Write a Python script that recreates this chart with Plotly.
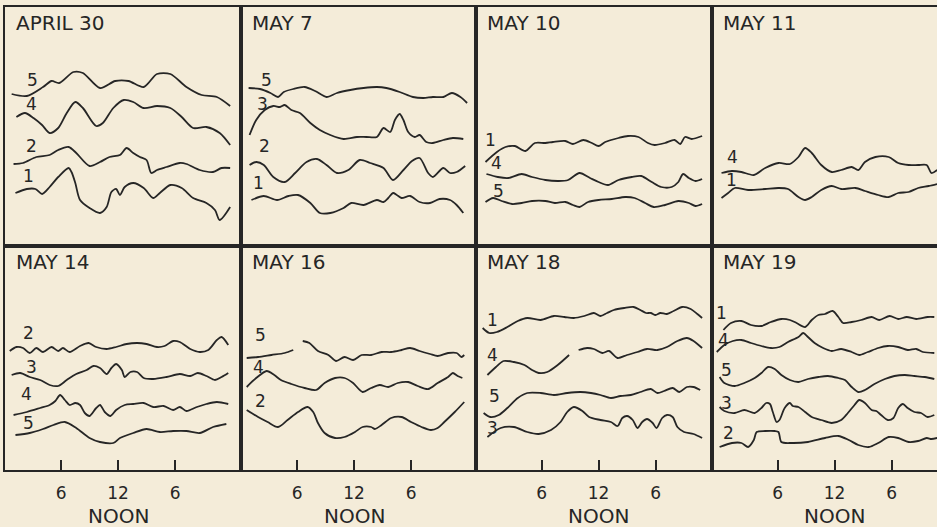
import plotly.graph_objects as go

# ---------------- data (hours of day, relative deflection units) ----------------
# APRIL 30
apr30_s5_x = [0.8, 2.4, 4.1, 5.0, 5.8, 7.3, 8.3, 10.1, 11.7, 13.1, 14.7, 16.1, 17.5, 19.2, 20.8, 22.4, 23.8]
apr30_s5_y = [15.2, 15.0, 15.9, 16.5, 16.3, 17.4, 17.3, 15.8, 16.5, 16.5, 15.9, 17.2, 17.2, 15.9, 15.1, 14.9, 14.0]
apr30_s4_x = [1.3, 2.2, 3.1, 4.0, 4.8, 5.7, 6.6, 7.5, 8.3, 9.7, 10.4, 11.5, 12.6, 13.6, 14.7, 16.1, 17.5, 18.7, 19.9, 21.3, 22.7, 23.8]
apr30_s4_y = [12.9, 13.3, 12.8, 12.1, 11.3, 11.8, 13.3, 14.4, 13.8, 12.0, 12.3, 13.8, 14.6, 14.4, 13.8, 14.0, 13.8, 12.9, 11.8, 11.9, 11.3, 10.1]
apr30_s2_x = [1.0, 2.0, 3.4, 4.8, 5.7, 6.8, 7.6, 9.0, 10.1, 11.1, 12.2, 12.9, 13.6, 14.3, 15.0, 15.5, 16.1, 17.1, 18.5, 19.2, 20.6, 22.0, 22.9, 23.8]
apr30_s2_y = [8.2, 8.3, 8.9, 9.1, 9.6, 9.9, 9.3, 8.0, 8.4, 8.9, 9.1, 9.8, 9.3, 8.9, 8.6, 7.3, 7.6, 7.9, 8.3, 8.2, 7.6, 7.4, 7.8, 7.8]
apr30_s1_x = [1.2, 2.4, 3.3, 4.0, 4.8, 5.7, 6.8, 7.1, 7.5, 8.0, 9.0, 10.1, 10.8, 11.3, 11.8, 12.2, 12.7, 13.6, 14.7, 15.7, 16.4, 17.5, 18.7, 19.9, 21.3, 22.2, 22.7, 23.8]
apr30_s1_y = [5.3, 5.7, 5.7, 5.2, 5.9, 6.9, 7.8, 7.4, 6.3, 4.6, 3.8, 3.3, 3.9, 5.4, 5.7, 5.1, 5.9, 6.3, 5.8, 4.8, 5.3, 6.1, 5.8, 4.8, 4.3, 3.6, 2.6, 3.9]

# MAY 7
may7_s5_x = [0.9, 2.1, 3.2, 4.0, 4.6, 5.6, 6.8, 7.9, 9.1, 10.2, 11.6, 13.0, 14.4, 15.4, 16.8, 18.2, 19.3, 20.3, 21.4, 22.3, 23.2, 23.9]
may7_s5_y = [15.8, 15.7, 15.3, 14.9, 15.4, 15.7, 15.9, 15.5, 14.9, 15.3, 15.6, 15.8, 15.9, 15.8, 15.4, 14.9, 14.8, 14.9, 14.9, 15.3, 14.9, 14.3]
may7_s3_x = [1.0, 1.7, 2.6, 3.5, 4.2, 4.7, 5.4, 6.3, 7.4, 8.4, 9.5, 10.9, 12.3, 13.3, 14.4, 15.1, 15.8, 16.3, 16.8, 17.2, 17.7, 18.4, 18.9, 19.6, 20.3, 21.4, 22.4, 23.5]
may7_s3_y = [11.1, 12.6, 13.6, 14.0, 13.9, 14.1, 13.6, 13.3, 12.3, 11.6, 11.1, 10.7, 10.9, 10.9, 10.9, 11.8, 11.4, 12.6, 13.2, 12.6, 11.4, 10.9, 11.1, 10.4, 10.3, 10.6, 10.8, 10.7]
may7_s2_x = [1.0, 1.7, 2.5, 3.5, 4.7, 5.8, 7.0, 8.1, 9.1, 10.2, 11.4, 12.6, 13.7, 15.1, 16.1, 17.2, 18.1, 18.9, 19.8, 20.3, 21.4, 22.1, 22.8, 23.7]
may7_s2_y = [8.1, 8.4, 8.1, 6.9, 6.4, 7.3, 8.4, 8.7, 8.1, 7.3, 7.6, 8.6, 8.3, 7.8, 6.6, 7.6, 8.5, 8.8, 7.3, 6.9, 7.8, 7.3, 7.4, 8.0]
may7_s1_x = [1.2, 2.5, 3.9, 5.1, 6.1, 7.4, 8.4, 9.5, 10.9, 11.7, 13.0, 14.4, 15.1, 15.6, 16.1, 16.5, 17.0, 17.9, 18.9, 20.0, 21.0, 22.1, 22.8, 23.5]
may7_s1_y = [4.6, 5.0, 4.6, 5.0, 5.1, 4.3, 3.3, 3.3, 3.8, 4.3, 4.1, 4.6, 4.4, 4.8, 5.3, 5.1, 4.8, 5.0, 4.4, 4.3, 4.7, 4.6, 4.1, 3.3]

# MAY 10
may10_s1_x = [0.1, 1.3, 2.2, 3.2, 4.3, 5.3, 6.4, 7.2, 8.5, 9.3, 10.4, 11.3, 12.0, 12.7, 14.1, 15.1, 16.2, 17.2, 17.9, 19.0, 20.0, 20.6, 21.1, 21.8, 22.9]
may10_s1_y = [8.4, 9.4, 9.9, 10.0, 9.5, 10.3, 10.3, 10.4, 10.5, 10.2, 10.6, 10.3, 10.0, 10.4, 10.8, 11.0, 10.9, 10.3, 10.1, 10.3, 10.6, 10.2, 10.9, 10.7, 11.0]
may10_s4_x = [0.2, 1.4, 2.5, 3.9, 5.0, 6.4, 7.8, 8.8, 10.0, 11.1, 12.0, 13.0, 14.1, 15.5, 16.5, 17.6, 18.6, 19.7, 20.4, 20.9, 21.5, 22.2, 22.9]
may10_s4_y = [7.2, 6.9, 6.8, 7.2, 6.9, 6.6, 6.5, 6.6, 7.3, 6.8, 6.4, 6.1, 6.6, 6.9, 7.0, 6.4, 5.9, 5.9, 6.4, 7.2, 6.8, 6.5, 6.7]
may10_s5_x = [0.1, 0.9, 1.8, 2.9, 3.9, 5.0, 6.4, 7.4, 8.5, 9.3, 10.0, 10.9, 12.0, 13.4, 14.8, 15.8, 16.9, 17.8, 19.0, 20.4, 21.5, 22.2, 22.9]
may10_s5_y = [4.4, 4.8, 4.5, 4.2, 4.3, 4.5, 4.5, 4.3, 4.4, 4.1, 3.9, 4.4, 4.6, 4.7, 4.9, 4.8, 4.3, 3.9, 4.1, 4.5, 4.3, 4.0, 4.2]

# MAY 11
may11_s4_x = [0.1, 1.2, 2.2, 3.5, 4.7, 6.1, 7.3, 8.2, 8.9, 9.6, 10.6, 11.7, 12.7, 13.8, 14.5, 15.2, 16.3, 17.7, 18.7, 19.8, 20.8, 21.7, 22.2, 22.8]
may11_s4_y = [7.3, 7.5, 7.4, 7.1, 7.8, 8.3, 8.2, 8.9, 9.8, 9.3, 8.1, 7.4, 7.6, 7.9, 7.6, 8.4, 8.9, 8.9, 8.3, 8.1, 8.1, 8.1, 7.3, 7.6]
may11_s1_x = [0.1, 0.8, 1.5, 2.9, 4.7, 6.1, 7.1, 8.2, 8.9, 9.6, 10.6, 11.7, 12.7, 14.2, 15.2, 16.6, 17.7, 18.7, 19.8, 20.8, 21.9, 22.8]
may11_s1_y = [4.8, 5.3, 5.8, 5.6, 5.7, 5.8, 5.7, 4.9, 4.6, 4.9, 5.6, 6.0, 5.7, 5.8, 5.5, 5.1, 4.9, 5.3, 5.4, 5.8, 6.0, 6.2]

# MAY 14
may14_s2_x = [0.6, 1.3, 2.0, 2.7, 3.4, 4.1, 5.0, 5.7, 6.2, 6.9, 8.0, 8.9, 9.7, 10.8, 11.8, 12.9, 14.0, 15.0, 16.1, 16.9, 17.8, 18.5, 19.6, 20.6, 21.5, 22.4, 22.9, 23.6]
may14_s2_y = [11.9, 12.3, 12.2, 11.7, 12.2, 11.8, 12.3, 11.9, 12.2, 11.8, 12.4, 12.7, 12.3, 12.1, 12.3, 12.6, 12.7, 12.6, 12.3, 12.4, 12.9, 12.8, 12.1, 11.8, 12.0, 13.0, 13.3, 12.5]
may14_s3_x = [0.8, 1.7, 2.7, 3.8, 4.8, 5.7, 6.6, 7.6, 8.7, 9.4, 10.1, 10.8, 11.3, 11.8, 12.4, 12.7, 13.3, 14.0, 14.7, 15.7, 17.1, 18.5, 19.6, 20.4, 21.3, 22.2, 22.9, 23.6]
may14_s3_y = [9.5, 9.7, 9.3, 9.0, 8.5, 8.4, 9.0, 9.6, 10.0, 10.4, 10.2, 9.6, 10.2, 10.6, 10.0, 9.3, 9.8, 9.8, 9.2, 9.1, 9.3, 9.6, 9.4, 9.7, 9.4, 9.0, 9.3, 9.7]
may14_s4_x = [1.0, 2.4, 3.8, 4.8, 5.4, 5.9, 6.4, 6.9, 7.5, 8.0, 8.5, 9.0, 9.7, 10.1, 10.6, 11.2, 11.8, 12.7, 13.6, 14.7, 15.7, 16.8, 17.8, 18.5, 19.2, 20.3, 21.3, 22.4, 23.6]
may14_s4_y = [5.5, 5.8, 6.2, 6.5, 6.9, 7.5, 7.0, 6.5, 6.7, 6.5, 5.7, 5.4, 6.2, 6.5, 5.8, 5.4, 6.0, 6.5, 6.6, 6.7, 6.3, 6.4, 6.0, 6.3, 5.9, 6.3, 6.6, 6.8, 6.6]
may14_s5_x = [1.2, 2.7, 4.1, 5.2, 6.4, 7.6, 9.0, 10.1, 11.5, 12.2, 13.6, 15.0, 16.4, 17.8, 19.2, 20.6, 22.0, 23.4]
may14_s5_y = [3.5, 3.7, 4.1, 4.5, 4.8, 4.2, 3.2, 2.8, 2.7, 3.2, 3.7, 4.1, 3.8, 3.9, 3.9, 3.7, 4.3, 4.6]

# MAY 16 (None = break in the record)
may16_s5_x = [0.7, 1.9, 3.3, 4.7, 5.6, None, 6.6, 7.3, 8.2, 9.3, 10.1, 11.0, 11.9, 12.8, 13.8, 14.9, 15.9, 17.0, 17.9, 18.9, 20.0, 20.8, 21.9, 22.8, 23.3, 23.6]
may16_s5_y = [11.2, 11.3, 11.5, 11.7, 12.0, None, 12.9, 12.7, 11.9, 11.5, 10.9, 11.3, 11.0, 11.5, 11.5, 11.8, 11.8, 12.0, 12.2, 11.9, 11.6, 11.4, 11.7, 11.7, 11.3, 11.5]
may16_s4_x = [0.7, 1.7, 2.8, 3.6, 4.3, 5.4, 6.8, 8.0, 8.9, 10.0, 11.0, 11.9, 12.9, 13.8, 14.7, 15.6, 16.6, 17.7, 18.7, 19.8, 20.8, 21.9, 22.4, 22.9, 23.4]
may16_s4_y = [8.3, 9.2, 9.9, 9.5, 9.0, 8.6, 8.2, 8.0, 8.7, 9.2, 9.2, 8.7, 7.8, 8.2, 8.5, 8.3, 8.7, 8.8, 8.4, 8.1, 8.7, 9.3, 9.7, 9.4, 9.2]
may16_s2_x = [0.7, 1.9, 2.9, 4.0, 5.0, 6.1, 7.1, 7.7, 8.2, 8.9, 10.0, 11.0, 12.1, 12.9, 13.8, 14.2, 14.9, 15.9, 17.0, 18.0, 19.1, 20.1, 20.8, 21.5, 22.6, 23.6]
may16_s2_y = [6.0, 5.3, 4.8, 4.3, 5.0, 5.8, 6.3, 5.8, 4.7, 3.7, 3.2, 3.3, 3.8, 4.3, 4.3, 4.1, 4.5, 5.2, 5.3, 4.8, 4.3, 4.0, 4.2, 4.8, 5.8, 6.8]

# MAY 18
may18_s1_x = [-0.2, 0.5, 1.3, 2.4, 3.5, 4.5, 5.9, 7.3, 8.4, 9.4, 10.5, 11.5, 12.2, 12.9, 13.6, 14.7, 15.7, 16.4, 17.0, 17.5, 18.0, 18.5, 19.2, 19.9, 20.8, 21.7, 22.4, 22.9]
may18_s1_y = [14.2, 13.7, 13.8, 14.3, 14.9, 15.2, 15.0, 15.4, 15.3, 15.2, 15.4, 15.7, 15.4, 15.7, 16.0, 16.2, 16.3, 16.0, 15.7, 15.7, 15.5, 15.7, 15.6, 15.9, 16.3, 16.1, 15.6, 15.2]
may18_s4_x = [0.3, 1.2, 2.0, 3.1, 4.2, 5.0, 5.7, 6.6, 7.7, 8.9, None, 9.9, 10.8, 11.5, 12.4, 13.1, 14.0, 15.0, 16.1, 17.1, 18.2, 19.2, 20.3, 21.3, 22.0, 22.9]
may18_s4_y = [9.5, 10.3, 10.9, 10.8, 10.5, 10.0, 9.7, 9.8, 10.5, 11.5, None, 12.0, 12.2, 12.1, 11.7, 11.9, 11.2, 11.5, 11.8, 12.1, 12.0, 12.3, 12.9, 13.2, 12.9, 12.2]
may18_s5_x = [-0.1, 0.6, 1.5, 2.4, 3.5, 4.5, 5.9, 7.3, 8.7, 10.1, 11.2, 12.2, 13.3, 14.3, 15.4, 16.4, 17.5, 18.2, 18.9, 19.8, 20.5, 21.3, 22.0, 22.7]
may18_s5_y = [5.7, 5.3, 5.5, 6.2, 7.2, 7.7, 7.7, 7.5, 7.7, 7.8, 7.7, 7.5, 7.2, 7.4, 7.5, 7.8, 8.1, 7.7, 7.9, 8.2, 7.8, 8.3, 8.3, 8.0]
may18_s3_x = [0.3, 1.7, 3.1, 4.5, 5.7, 7.0, 8.0, 8.7, 9.4, 10.3, 11.0, 12.2, 13.3, 14.0, 14.5, 15.0, 15.6, 16.1, 16.6, 17.1, 17.7, 18.1, 18.7, 19.2, 19.8, 20.3, 21.0, 22.0, 22.9]
may18_s3_y = [3.3, 4.2, 4.3, 3.8, 3.6, 4.0, 4.8, 5.8, 6.3, 5.9, 5.3, 5.0, 4.8, 4.4, 5.2, 5.4, 5.0, 4.2, 4.8, 5.1, 4.7, 4.2, 5.2, 5.5, 5.3, 4.3, 3.8, 3.6, 3.2]

# MAY 19
may19_s1_x = [0.3, 1.1, 2.2, 3.2, 4.3, 5.3, 6.4, 7.3, 8.0, 8.9, 9.6, 10.3, 11.0, 11.8, 12.4, 12.9, 13.8, 14.8, 15.9, 16.7, 17.8, 18.7, 19.6, 20.6, 21.8, 22.5]
may19_s1_y = [14.0, 14.7, 14.9, 14.5, 14.4, 14.8, 15.1, 15.0, 14.7, 14.3, 15.0, 15.5, 15.6, 15.9, 15.3, 14.7, 14.8, 15.0, 15.3, 15.0, 15.4, 15.1, 15.3, 15.1, 15.3, 15.3]
may19_s4_x = [-0.4, 0.4, 1.3, 2.2, 3.2, 4.3, 5.3, 6.2, 7.1, 8.2, 8.7, 9.2, 9.9, 10.8, 11.7, 12.7, 13.8, 14.6, 15.5, 16.6, 17.6, 18.7, 19.7, 20.6, 21.3, 22.5]
may19_s4_y = [11.8, 12.5, 12.9, 13.0, 12.7, 12.4, 12.2, 12.3, 12.8, 13.3, 13.7, 13.3, 12.7, 12.2, 11.9, 12.1, 11.8, 11.5, 11.8, 12.2, 12.4, 12.3, 12.0, 12.1, 11.8, 11.7]
may19_s5_x = [-0.1, 0.4, 1.5, 2.5, 3.6, 4.3, 5.0, 5.7, 6.4, 7.3, 8.2, 9.2, 10.3, 11.3, 12.4, 13.1, 13.8, 14.5, 15.2, 16.2, 17.3, 18.3, 19.4, 20.4, 21.5, 22.5]
may19_s5_y = [9.3, 8.7, 8.4, 8.7, 9.2, 9.7, 10.3, 10.1, 9.5, 9.0, 8.8, 9.1, 9.3, 9.4, 9.2, 9.0, 8.3, 7.8, 8.0, 8.6, 9.1, 9.4, 9.5, 9.4, 9.3, 9.1]
may19_s3_x = [-0.1, 0.4, 1.5, 2.5, 3.6, 4.3, 4.8, 5.2, 5.5, 5.9, 6.2, 6.75, 7.3, 7.6, 8.2, 8.9, 9.6, 10.6, 11.7, 12.7, 13.4, 14.1, 14.6, 15.2, 15.9, 16.4, 16.9, 17.6, 18.2, 18.7, 19.2, 19.7, 20.4, 21.1, 21.8, 22.5]
may19_s3_y = [6.3, 5.9, 5.7, 6.0, 5.7, 6.2, 6.7, 6.6, 5.8, 4.8, 5.0, 6.2, 6.7, 6.4, 6.3, 5.8, 5.3, 5.0, 4.7, 5.0, 5.7, 6.5, 7.0, 6.7, 6.0, 5.9, 5.5, 5.0, 5.2, 6.2, 6.6, 6.2, 5.8, 5.7, 5.3, 5.5]
may19_s2_x = [-0.1, 1.2, 2.2, 2.9, 3.5, 3.8, 4.7, 5.7, 6.1, 6.4, 7.5, 9.2, 11.0, 12.4, 13.5, 14.5, 15.6, 16.6, 17.7, 18.7, 19.8, 20.8, 21.7, 22.2, 22.8]
may19_s2_y = [2.3, 2.7, 2.7, 2.3, 3.0, 3.8, 3.9, 3.9, 3.8, 2.8, 2.7, 2.8, 3.2, 3.4, 3.0, 2.5, 2.3, 2.7, 3.3, 3.2, 2.8, 2.9, 3.2, 3.1, 3.2]

# panel titles and curve labels (hour, level, text)
panel_titles = ["APRIL 30", "MAY 7", "MAY 10", "MAY 11", "MAY 14", "MAY 16", "MAY 18", "MAY 19"]
apr30_labels = [(3.0, 16.6, "5"), (2.9, 14.2, "4"), (2.9, 10.0, "2"), (2.6, 7.0, "1")]
may7_labels = [(2.8, 16.6, "5"), (2.4, 14.2, "3"), (2.6, 10.0, "2"), (1.9, 6.3, "1")]
may10_labels = [(0.6, 10.6, "1"), (1.3, 8.3, "4"), (1.45, 5.5, "5")]
may11_labels = [(1.3, 8.9, "4"), (1.2, 6.6, "1")]
may14_labels = [(2.6, 13.7, "2"), (2.9, 10.3, "3"), (2.4, 7.6, "4"), (2.6, 4.7, "5")]
may16_labels = [(2.1, 13.5, "5"), (1.9, 10.3, "4"), (2.1, 6.9, "2")]
may18_labels = [(0.8, 15.0, "1"), (0.8, 11.5, "4"), (1.0, 7.4, "5"), (0.8, 4.2, "3")]
may19_labels = [(0.15, 15.7, "1"), (0.3, 13.0, "4"), (0.6, 10.0, "5"), (0.6, 6.7, "3"), (0.8, 3.7, "2")]

tick_hours = [6, 12, 18]
tick_text = ["6", "12", "6"]

# ---------------- figure ----------------
W, H = 937, 527
INK = "#262626"
BG = "#f4ecd9"
FONT = "DejaVu Sans"

panels = [
    ([(apr30_s5_x, apr30_s5_y), (apr30_s4_x, apr30_s4_y), (apr30_s2_x, apr30_s2_y), (apr30_s1_x, apr30_s1_y)], apr30_labels),
    ([(may7_s5_x, may7_s5_y), (may7_s3_x, may7_s3_y), (may7_s2_x, may7_s2_y), (may7_s1_x, may7_s1_y)], may7_labels),
    ([(may10_s1_x, may10_s1_y), (may10_s4_x, may10_s4_y), (may10_s5_x, may10_s5_y)], may10_labels),
    ([(may11_s4_x, may11_s4_y), (may11_s1_x, may11_s1_y)], may11_labels),
    ([(may14_s2_x, may14_s2_y), (may14_s3_x, may14_s3_y), (may14_s4_x, may14_s4_y), (may14_s5_x, may14_s5_y)], may14_labels),
    ([(may16_s5_x, may16_s5_y), (may16_s4_x, may16_s4_y), (may16_s2_x, may16_s2_y)], may16_labels),
    ([(may18_s1_x, may18_s1_y), (may18_s4_x, may18_s4_y), (may18_s5_x, may18_s5_y), (may18_s3_x, may18_s3_y)], may18_labels),
    ([(may19_s1_x, may19_s1_y), (may19_s4_x, may19_s4_y), (may19_s5_x, may19_s5_y), (may19_s3_x, may19_s3_y), (may19_s2_x, may19_s2_y)], may19_labels),
]

col_px = [5, 241, 476, 712, 937]
row_px = [(7, 246), (246, 470)]
col_start_hour = [0.1, 0.1, -0.9, -0.9]
PX_PER_HOUR = 9.5
PX_PER_UNIT = 10.0

fig = go.Figure()
layout = dict(
    width=W, height=H, margin=dict(l=0, r=0, t=0, b=0),
    paper_bgcolor=BG, plot_bgcolor=BG, showlegend=False,
    font=dict(family=FONT, color=INK),
)
annotations = []

for i, (curves, labels) in enumerate(panels):
    r, c = divmod(i, 4)
    n = "" if i == 0 else str(i + 1)
    x0, x1 = col_px[c], col_px[c + 1]
    top, bot = row_px[r]
    h0 = col_start_hour[c]
    xr = [h0, h0 + (x1 - x0) / PX_PER_HOUR]
    yr = [0, (bot - top) / PX_PER_UNIT]
    bottom_row = r == 1
    layout["xaxis" + n] = dict(
        domain=[x0 / W, x1 / W], range=xr, anchor="y" + n,
        showgrid=False, zeroline=False, showline=True, mirror=True,
        linecolor=INK, linewidth=1.5,
        ticks="inside" if bottom_row else "", ticklen=10, tickwidth=1.5, tickcolor=INK,
        tickmode="array", tickvals=tick_hours, ticktext=tick_text,
        showticklabels=bottom_row, ticklabelstandoff=7,
        tickfont=dict(family=FONT, size=17, color=INK),
        fixedrange=True,
    )
    layout["yaxis" + n] = dict(
        domain=[1 - bot / H, 1 - top / H], range=yr, anchor="x" + n,
        showgrid=False, zeroline=False, showline=True, mirror=(c < 3),
        linecolor=INK, linewidth=1.5, ticks="", showticklabels=False, fixedrange=True,
    )
    for xs, ys in curves:
        fig.add_trace(go.Scatter(
            x=xs, y=ys, mode="lines", xaxis="x" + n, yaxis="y" + n,
            line=dict(color=INK, width=1.8, shape="spline", smoothing=0.8),
            hoverinfo="skip", connectgaps=False,
        ))
    for lx, ly, lt in labels:
        annotations.append(dict(
            x=lx, y=ly, xref="x" + n, yref="y" + n, text=lt, showarrow=False,
            font=dict(family=FONT, size=17, color=INK), xanchor="center", yanchor="middle",
        ))
    annotations.append(dict(
        x=0, y=1, xref="x" + n + " domain", yref="y" + n + " domain",
        text=panel_titles[i], showarrow=False, xanchor="left", yanchor="middle",
        xshift=9, yshift=-16, font=dict(family=FONT, size=20, color=INK),
    ))
    if bottom_row:
        annotations.append(dict(
            x=12, y=1 - 516 / H, xref="x" + n, yref="paper", text="NOON",
            showarrow=False, xanchor="center", yanchor="middle",
            font=dict(family=FONT, size=20, color=INK),
        ))

layout["annotations"] = annotations
fig.update_layout(**layout)
fig.write_html("out.html")
